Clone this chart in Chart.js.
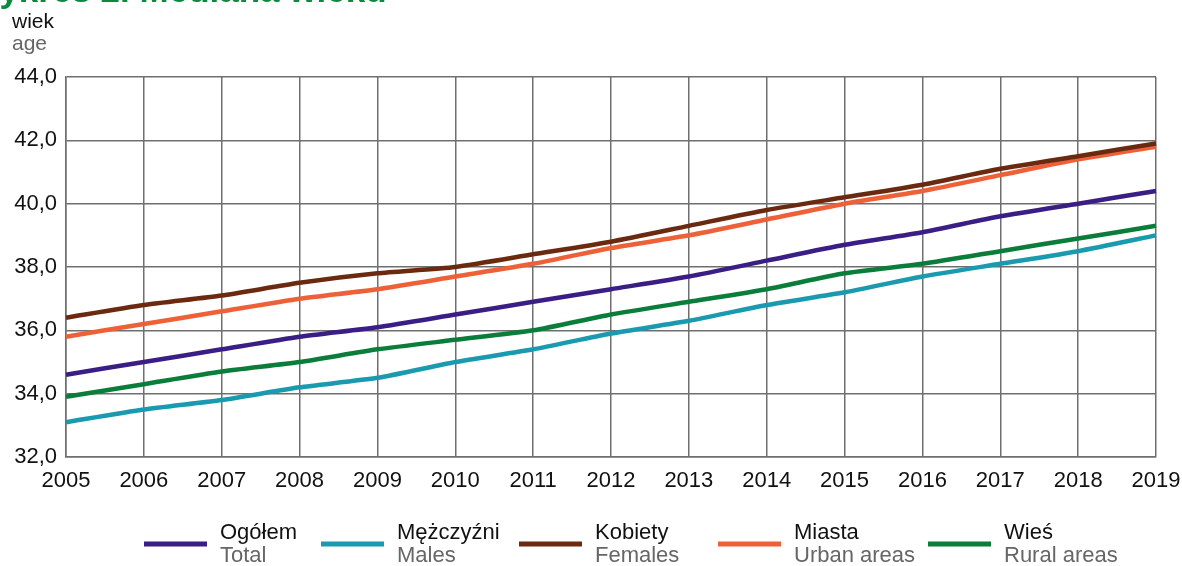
<!DOCTYPE html>
<html>
<head>
<meta charset="utf-8">
<script src="https://cdn.jsdelivr.net/npm/chart.js@4"></script>
<style>
  body { margin: 0; background: #fff; }
  .chart-box { position: relative; width: 1182px; height: 566px; }
</style>
</head>
<body>
<div class="chart-box"><canvas id="medianChart"></canvas></div>
<script>
const years = ["2005", "2006", "2007", "2008", "2009", "2010", "2011", "2012",
  "2013", "2014", "2015", "2016", "2017", "2018", "2019"];

const ogolem = [34.6, 35.0, 35.4, 35.8, 36.1, 36.5, 36.9, 37.3, 37.7, 38.2, 38.7, 39.1, 39.6, 40.0, 40.4];
const mezczyzni = [33.1, 33.5, 33.8, 34.2, 34.5, 35.0, 35.4, 35.9, 36.3, 36.8, 37.2, 37.7, 38.1, 38.5, 39.0];
const kobiety = [36.4, 36.8, 37.1, 37.5, 37.8, 38.0, 38.4, 38.8, 39.3, 39.8, 40.2, 40.6, 41.1, 41.5, 41.9];
const miasta = [35.8, 36.2, 36.6, 37.0, 37.3, 37.7, 38.1, 38.6, 39.0, 39.5, 40.0, 40.4, 40.9, 41.4, 41.8];
const wies = [33.9, 34.3, 34.7, 35.0, 35.4, 35.7, 36.0, 36.5, 36.9, 37.3, 37.8, 38.1, 38.5, 38.9, 39.3];

const seriesPl = ["Ogółem", "Mężczyźni", "Kobiety", "Miasta", "Wieś"];
const seriesEn = ["Total", "Males", "Females", "Urban areas", "Rural areas"];
const seriesColors = ["#3b1d86", "#1a9aae", "#6b2a10", "#ee6038", "#0b7d3b"];

const titleText = "Wykres 2. Mediana wieku";
const unitPl = "wiek";
const unitEn = "age";

const font = "'Liberation Sans', Arial, sans-serif";
const gridColor = "#6f6f6f";

// texts around the plot + two-line legend
const extrasPlugin = {
  id: "extras",
  afterDraw(chart) {
    const ctx = chart.ctx;
    ctx.save();
    ctx.textBaseline = "alphabetic";
    ctx.textAlign = "left";

    ctx.fillStyle = "#0b8a3e";
    ctx.font = "bold 35px " + font;
    ctx.fillText(titleText, -33, 2);

    ctx.font = "21px " + font;
    ctx.fillStyle = "#111";
    ctx.fillText(unitPl, 12, 28);
    ctx.fillStyle = "#666";
    ctx.fillText(unitEn, 12, 50);

    const itemX = [144, 321, 519, 718, 928];
    chart.data.datasets.forEach((ds, i) => {
      const x = itemX[i];
      ctx.strokeStyle = ds.borderColor;
      ctx.lineWidth = 5;
      ctx.beginPath();
      ctx.moveTo(x, 544);
      ctx.lineTo(x + 63, 544);
      ctx.stroke();
      ctx.font = "22px " + font;
      ctx.fillStyle = "#111";
      ctx.fillText(ds.label, x + 76, 539);
      ctx.fillStyle = "#666";
      ctx.fillText(seriesEn[i], x + 76, 562);
    });
    ctx.restore();
  },
};

const seriesData = [ogolem, mezczyzni, kobiety, miasta, wies];

let ctx = document.getElementById("medianChart").getContext("2d");

window.medianChart = new Chart(ctx, {
  type: "line",
  data: {
    labels: years,
    datasets: seriesData.map((values, i) => ({
      label: seriesPl[i],
      data: values,
      borderColor: seriesColors[i],
      backgroundColor: seriesColors[i],
      borderWidth: 4.5,
      pointRadius: 0,
      tension: 0.2,
      order: i === 2 ? 0 : 1,
    })),
  },
  options: {
    responsive: true,
    maintainAspectRatio: false,
    animation: false,
    layout: {
      padding: { top: 77, right: 26, bottom: 0, left: 0 },
    },
    scales: {
      x: {
        offset: false,
        grid: {
          color: gridColor,
          lineWidth: 1.5,
          drawTicks: false,
        },
        border: { color: gridColor, width: 1.5 },
        ticks: {
          padding: 11,
          color: "#111",
          font: { family: font, size: 22 },
          maxRotation: 0,
          autoSkip: false,
        },
        afterFit(axis) {
          axis.height = 566 - 457;
          axis.paddingLeft = 0;
          axis.paddingRight = 0;
        },
      },
      y: {
        min: 32,
        max: 44,
        grid: {
          color: gridColor,
          lineWidth: 1.5,
          drawTicks: false,
        },
        border: { color: gridColor, width: 1.5 },
        ticks: {
          stepSize: 2,
          padding: 9,
          color: "#111",
          font: { family: font, size: 22 },
          callback: (value) => value.toFixed(1).replace(".", ","),
        },
        afterFit(axis) {
          axis.width = 66;
          axis.paddingTop = 0;
          axis.paddingBottom = 0;
        },
      },
    },
    plugins: {
      legend: { display: false },
      tooltip: { enabled: false },
    },
  },
  plugins: [extrasPlugin],
});
</script>
</body>
</html>
